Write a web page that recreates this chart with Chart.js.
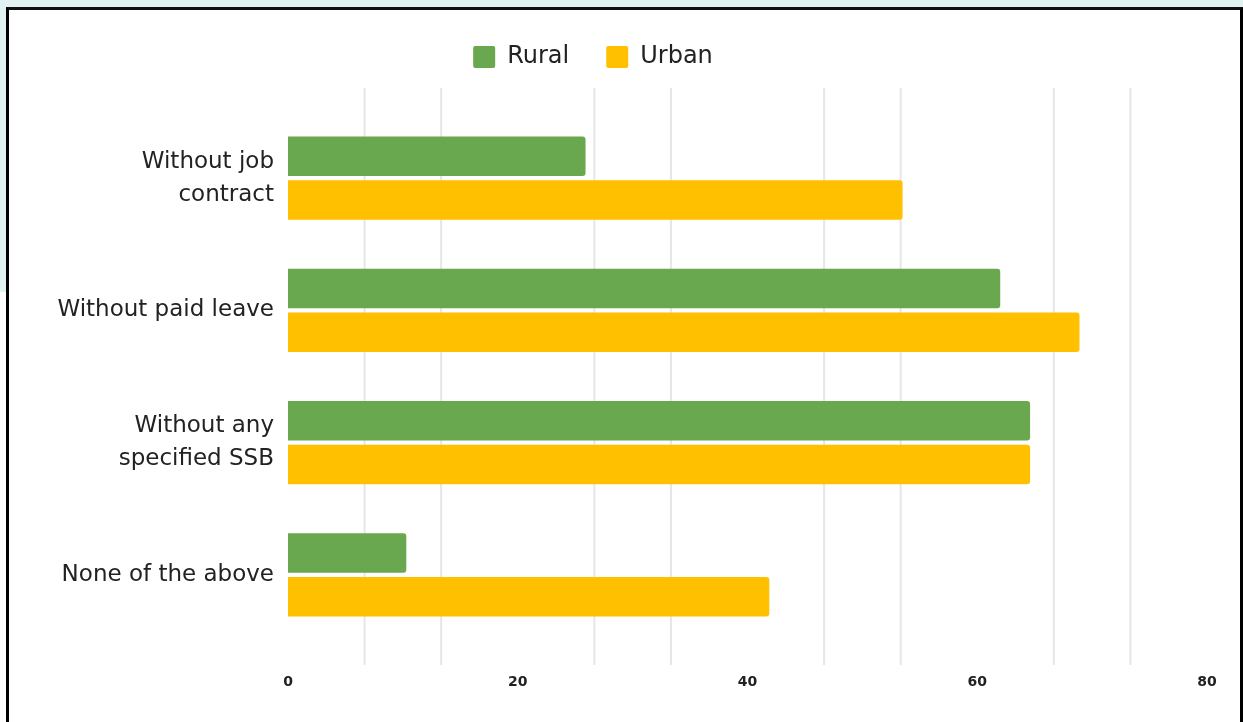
<!DOCTYPE html>
<html>
<head>
<meta charset="utf-8">
<script src="https://cdn.jsdelivr.net/npm/chart.js@4"></script>
<style>
  html, body { margin: 0; padding: 0; background: #ffffff; }
  body { width: 1243px; height: 722px; position: relative; overflow: hidden; }
  .strip { position: absolute; background: #e0f2f2; }
  #frame {
    position: absolute; left: 6px; top: 7px;
    width: 1231px; height: 715px;
    border-top: 3px solid #111; border-left: 3px solid #000; border-right: 3px solid #000;
    background: #ffffff;
  }
  #chart { display: block; }
</style>
</head>
<body>
<div class="strip" style="left:0;top:0;width:1243px;height:7px"></div>
<div class="strip" style="left:0;top:0;width:6px;height:292px"></div>
<div id="frame"><canvas id="chart" width="1231" height="712"></canvas></div>
<script>
// Share of workers (%) by employment condition
const categories = [['Without job', 'contract'], 'Without paid leave', ['Without any', 'specified SSB'], 'None of the above'];
const rural = [25.9, 62.0, 64.6, 10.3];
const urban = [53.5, 68.9, 64.6, 41.9];
const xTickValues = [0, 20, 40, 60, 80];
const minorStep = 20 / 3;

// Light vertical guide lines between the labelled ticks, running a bit past the bars
const minorGrid = {
  id: 'minorGrid',
  beforeDatasetsDraw(chart) {
    const { ctx, chartArea, scales: { x } } = chart;
    ctx.save();
    ctx.strokeStyle = '#e6e6e6';
    ctx.lineWidth = 2;
    const n = Math.round((x.max - x.min) / minorStep);
    for (let k = 1; k < n; k++) {
      if (k % 3 === 0) continue;
      const px = x.getPixelForValue(x.min + k * minorStep);
      ctx.beginPath();
      ctx.moveTo(px, chartArea.top - 24);
      ctx.lineTo(px, chartArea.bottom + 24);
      ctx.stroke();
    }
    ctx.restore();
  }
};

// Place the legend row above the plot, slightly left of the canvas centre
const legendPlacement = {
  id: 'legendPlacement',
  afterLayout(chart) {
    const lg = chart.legend;
    if (!lg) return;
    const dx = 584 - (lg.left + lg.right) / 2;
    const dy = -33;
    lg.left += dx; lg.right += dx;
    lg.top += dy; lg.bottom += dy;
  }
};

new Chart(document.getElementById('chart'), {
  type: 'bar',
  data: {
    labels: categories,
    datasets: [
      { label: 'Rural', data: rural, backgroundColor: '#6aa84f', borderWidth: 0, borderRadius: 3 },
      { label: 'Urban', data: urban, backgroundColor: '#ffc000', borderWidth: 0, borderRadius: 3 }
    ]
  },
  options: {
    indexAxis: 'y',
    responsive: false,
    animation: false,
    categoryPercentage: 0.664,
    barPercentage: 0.9,
    layout: { padding: { top: 31, left: 0, right: 33, bottom: 0 } },
    plugins: {
      legend: {
        position: 'top',
        labels: {
          boxWidth: 22,
          boxHeight: 22,
          padding: 37,
          color: '#222222',
          useBorderRadius: true,
          borderRadius: 2,
          font: { family: 'DejaVu Sans', size: 24 }
        }
      },
      tooltip: { enabled: false }
    },
    scales: {
      x: {
        type: 'linear',
        min: 0,
        max: 80,
        grid: { display: false, drawTicks: false },
        border: { display: false },
        afterBuildTicks(scale) { scale.ticks = xTickValues.map(v => ({ value: v })); },
        afterFit(scale) {
          scale.height = 81;
          // the label gap below the plot should not widen the side margins
          scale.paddingLeft = 0;
          scale.paddingRight = 0;
        },
        ticks: {
          padding: 33,
          color: '#222222',
          font: { family: 'DejaVu Sans', size: 14, weight: 'bold' },
          callback: (v) => String(v)
        }
      },
      y: {
        grid: { display: false, drawTicks: false },
        border: { display: false },
        afterFit(scale) { scale.width = 279; },
        ticks: {
          padding: 14,
          color: '#222222',
          font: { family: 'DejaVu Sans', size: 23, lineHeight: 1.435 }
        }
      }
    }
  },
  plugins: [minorGrid, legendPlacement]
});
</script>
</body>
</html>
